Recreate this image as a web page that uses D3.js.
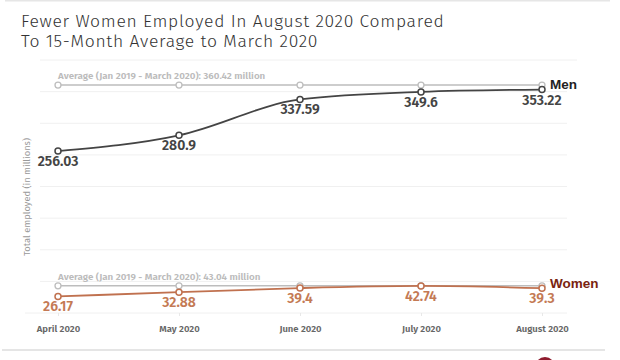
<!DOCTYPE html>
<html><head><meta charset="utf-8">
<script src="https://cdn.jsdelivr.net/npm/d3@7"></script>
<style>body{margin:0;background:#fff;}svg{display:block;}</style>
</head><body>
<svg id="c" width="620" height="360"></svg>
<script>
const months = ["April 2020","May 2020","June 2020","July 2020","August 2020"];
const men = [256.03, 280.9, 337.59, 349.6, 353.22];
const women = [26.17, 32.88, 39.4, 42.74, 39.3];
const menAvg = 360.42;
const womenAvg = 43.04;
const yTicks = [0,50,100,150,200,250,300,350,400];
const titleLines = ["Fewer Women Employed In August 2020 Compared","To 15-Month Average to March 2020"];

const svg = d3.select("#c");
const x = d3.scalePoint().domain(months).range([58, 542]);
const y = d3.scaleLinear().domain([0, 400]).range([313, 60]);
const font = "'Fira Sans','Open Sans','Noto Sans',sans-serif";

// top & bottom separators
svg.append("line").attr("x1",5).attr("x2",610).attr("y1",0.5).attr("y2",0.5).attr("stroke","#e6e6e6").attr("stroke-width",2);
svg.append("line").attr("x1",2).attr("x2",605).attr("y1",350).attr("y2",350).attr("stroke","#ddd").attr("stroke-width",1.5);
svg.append("circle").attr("cx",545).attr("cy",367).attr("r",10).attr("fill","#8e1b2e");

// title
svg.append("g").selectAll("text").data(titleLines).join("text")
  .attr("x",21).attr("y",(d,i)=>27+i*20)
  .attr("font-family",font).attr("font-weight",300).attr("font-size",17.5)
  .attr("letter-spacing",0.7)
  .attr("fill","#333").text(d=>d);

// gridlines
svg.append("g").selectAll("line").data(yTicks).join("line")
  .attr("x1",d=>d===0?25:40).attr("x2",d=>d===400?577:567)
  .attr("y1",d=>y(d)).attr("y2",d=>y(d))
  .attr("stroke","#f0f0f0").attr("stroke-width",1);

// x axis
const xa = svg.append("g").attr("transform","translate(0,313)")
  .call(d3.axisBottom(x).tickSize(3).tickPadding(9));
xa.select(".domain").remove();
xa.selectAll("line").attr("stroke","#e8e8e8");
xa.selectAll("text").attr("font-family",font).attr("font-weight",600).attr("font-size",9.5).attr("fill","#666");

// y title
svg.append("text").attr("transform","translate(30,197) rotate(-90)")
  .attr("text-anchor","middle").attr("font-family",font).attr("font-size",9.3).attr("fill","#999")
  .text("Total employed (in millions)");

function series(vals, avg, color, labelColor, name, nameColor, avgText){
  const g = svg.append("g");
  g.append("line").attr("x1",x(months[0])).attr("x2",x(months[4]))
    .attr("y1",y(avg)).attr("y2",y(avg)).attr("stroke","#bdbdbd").attr("stroke-width",1.5);
  g.selectAll("circle.a").data(months).join("circle").attr("class","a")
    .attr("cx",d=>x(d)).attr("cy",y(avg)).attr("r",3)
    .attr("fill","#fff").attr("stroke","#bdbdbd").attr("stroke-width",1.3);
  g.append("text").attr("x",x(months[0])).attr("y",y(avg)-6)
    .attr("font-family",font).attr("font-weight",600).attr("font-size",9.8).attr("fill","#bbb")
    .text(avgText);
  const line = d3.line().x((d,i)=>x(months[i])).y(d=>y(d)).curve(d3.curveMonotoneX);
  g.append("path").datum(vals).attr("d",line).attr("fill","none")
    .attr("stroke",color).attr("stroke-width",1.8);
  g.selectAll("circle.v").data(vals).join("circle").attr("class","v")
    .attr("cx",(d,i)=>x(months[i])).attr("cy",d=>y(d)).attr("r",3)
    .attr("fill","#fff").attr("stroke",color).attr("stroke-width",1.5);
  g.selectAll("text.v").data(vals).join("text").attr("class","v")
    .attr("x",(d,i)=>x(months[i])).attr("y",d=>y(d)+15)
    .attr("text-anchor","middle").attr("font-family",font).attr("font-weight",600)
    .attr("font-size",14).attr("fill",labelColor).text(d=>d);
  g.append("text").attr("x",550).attr("y",y(vals[4])-0.5)
    .attr("font-family","'Liberation Sans',Arial,sans-serif").attr("font-weight",700)
    .attr("font-size",13.5).attr("fill",nameColor).text(name);
}
series(men, menAvg, "#444", "#444", "Men", "#222", "Average (Jan 2019 - March 2020): " + menAvg + " million");
series(women, womenAvg, "#c0714f", "#c47a55", "Women", "#7a2410", "Average (Jan 2019 - March 2020): " + womenAvg + " million");
</script>
</body></html>
